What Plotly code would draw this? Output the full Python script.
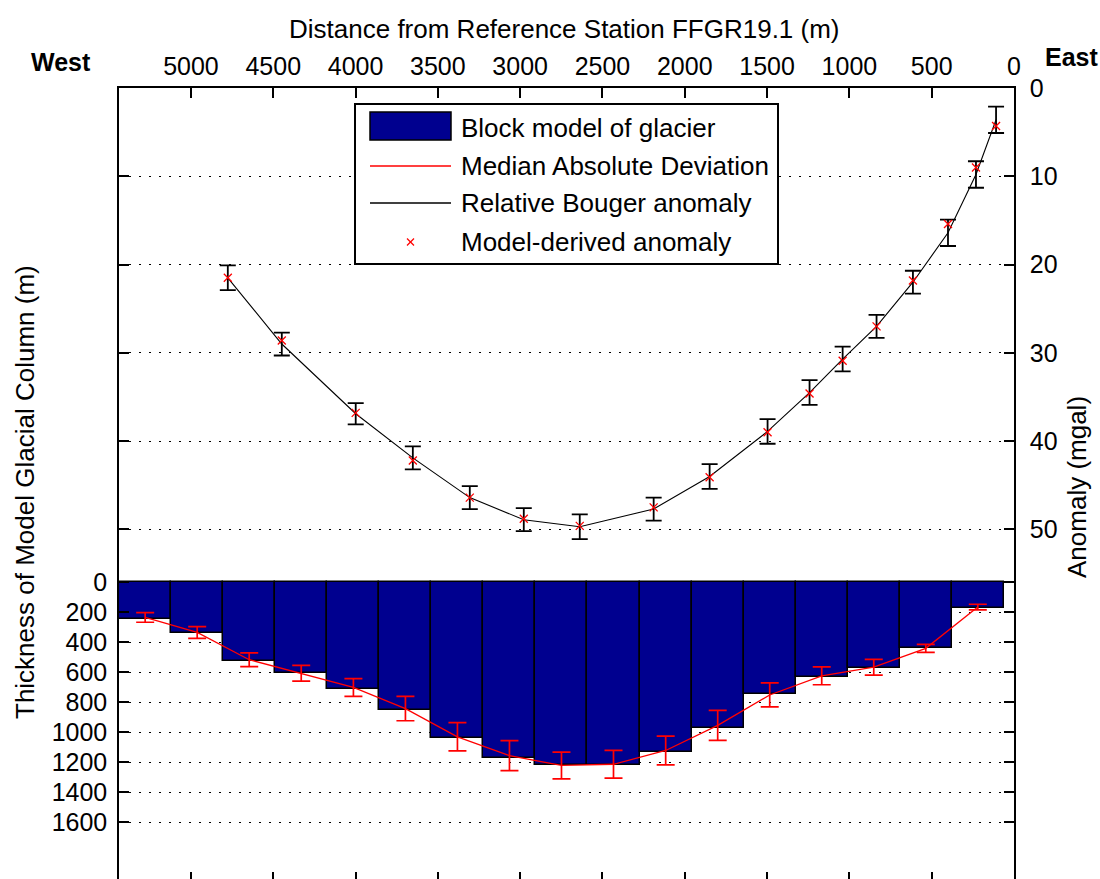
import plotly.graph_objects as go

# ---------------- data ----------------
block_x = [5278, 4962, 4646, 4330, 4013, 3697, 3381, 3065, 2749, 2433, 2116, 1800, 1484, 1168, 852, 536, 220]
block_thickness = [244, 338, 525, 606, 713, 847, 1034, 1168, 1215, 1215, 1128, 967, 746, 633, 572, 439, 171]
block_width = 316

mad_line = [233, 333, 515, 605, 700, 841, 1029, 1155, 1220, 1212, 1120, 953, 750, 622, 565, 439, 164]
mad_err = [32, 39, 46, 53, 59, 81, 94, 100, 89, 93, 96, 100, 80, 60, 52, 27, 19]

station_x = [4776, 4448, 3999, 3652, 3306, 2978, 2638, 2189, 1849, 1497, 1242, 1041, 835, 614, 401, 231, 109]
bouguer_obs = [21.5, 29.0, 36.9, 41.9, 46.4, 48.9, 49.7, 47.7, 44.0, 38.9, 34.5, 30.7, 27.0, 22.0, 16.4, 9.8, 3.6]
bouguer_err = [1.4, 1.3, 1.2, 1.3, 1.3, 1.3, 1.4, 1.3, 1.4, 1.4, 1.4, 1.4, 1.3, 1.3, 1.5, 1.5, 1.5]
model_anom = [21.5, 28.6, 36.8, 42.2, 46.4, 48.8, 49.6, 47.5, 44.1, 39.0, 34.6, 30.9, 27.0, 21.8, 15.4, 9.0, 4.3]

dist_ticks = [0, 500, 1000, 1500, 2000, 2500, 3000, 3500, 4000, 4500, 5000]
thick_ticks = [0, 200, 400, 600, 800, 1000, 1200, 1400, 1600]
anom_ticks = [0, 10, 20, 30, 40, 50]

legend_labels = ["Block model of glacier", "Median Absolute Deviation",
                 "Relative Bouger anomaly", "Model-derived anomaly"]

# ---------------- layout geometry ----------------
W, H = 1100, 879
L, R, T, B = 119, 1014, 88, 879
FONT = "Liberation Sans, Arial, sans-serif"
FS = 25
FS_T = 26
NAVY = "rgb(0,0,143)"


def px(x):
    return (x - L) / (R - L)


def py(y):
    return (B - y) / (B - T)


fig = go.Figure()

fig.add_trace(go.Bar(
    x=block_x, y=block_thickness, width=block_width,
    marker=dict(color=NAVY, line=dict(color="black", width=1.5)),
    xaxis="x", yaxis="y", showlegend=False, name=legend_labels[0]))

fig.add_trace(go.Scatter(
    x=block_x, y=mad_line, mode="lines",
    line=dict(color="red", width=1.3),
    error_y=dict(type="data", array=mad_err, color="red", thickness=1.7, width=9),
    xaxis="x", yaxis="y", showlegend=False, name=legend_labels[1]))

fig.add_trace(go.Scatter(
    x=station_x, y=bouguer_obs, mode="lines",
    line=dict(color="black", width=1.1),
    error_y=dict(type="data", array=bouguer_err, color="black", thickness=1.8, width=8),
    xaxis="x", yaxis="y2", showlegend=False, name=legend_labels[2]))

fig.add_trace(go.Scatter(
    x=station_x, y=model_anom, mode="markers",
    marker=dict(symbol="x-thin", size=8, line=dict(color="red", width=1.3), color="red"),
    xaxis="x2", yaxis="y2", showlegend=False, name=legend_labels[3]))

grid_dash = "2px,8px"

fig.update_layout(
    width=W, height=H,
    margin=dict(l=L, r=W - R, t=T, b=H - B, pad=0),
    paper_bgcolor="white", plot_bgcolor="white",
    font=dict(family=FONT, size=FS, color="black"),
    bargap=0,
    xaxis=dict(
        range=[5437, 0], side="top", tickmode="array", tickvals=dist_ticks,
        ticks="inside", ticklen=10, tickcolor="black", tickwidth=1.5,
        showline=True, linecolor="black", linewidth=1.5, mirror=False,
        showgrid=False, zeroline=False, ticklabelstandoff=1,
        tickfont=dict(family=FONT, size=FS, color="black")),
    xaxis2=dict(
        matches="x", overlaying="x", anchor="y", side="bottom",
        tickmode="array", tickvals=dist_ticks, ticks="inside", ticklen=7,
        tickcolor="black", tickwidth=1.5, showticklabels=False, showline=False,
        showgrid=False, zeroline=False),
    yaxis=dict(
        range=[1977, -3297], side="left", tickmode="array", tickvals=thick_ticks,
        ticks="inside", ticklen=10, tickcolor="black", tickwidth=1.5,
        showline=True, linecolor="black", linewidth=1.5, mirror="ticks",
        showgrid=True, gridcolor="black", gridwidth=1, griddash=grid_dash,
        zeroline=True, zerolinecolor="black", zerolinewidth=1.5,
        ticklabelstandoff=5,
        tickfont=dict(family=FONT, size=FS, color="black")),
    yaxis2=dict(
        range=[89.6, 0], side="right", overlaying="y", anchor="x",
        tickmode="array", tickvals=anom_ticks,
        ticks="inside", ticklen=10, tickcolor="black", tickwidth=1.5,
        showline=True, linecolor="black", linewidth=1.5, mirror="ticks",
        showgrid=True, gridcolor="black", gridwidth=1, griddash=grid_dash,
        zeroline=False, ticklabelstandoff=9,
        tickfont=dict(family=FONT, size=FS, color="black")),
)

# ---------------- titles / annotations ----------------
ann = []
ann.append(dict(text="Distance from Reference Station FFGR19.1 (m)", x=px(564), y=py(29),
                xref="paper", yref="paper", showarrow=False, xanchor="center", yanchor="middle",
                font=dict(family=FONT, size=FS_T)))
ann.append(dict(text="<b>West</b>", x=px(61), y=py(62), xref="paper", yref="paper",
                showarrow=False, xanchor="center", yanchor="middle", font=dict(family=FONT, size=FS)))
ann.append(dict(text="<b>East</b>", x=px(1071), y=py(57), xref="paper", yref="paper",
                showarrow=False, xanchor="center", yanchor="middle", font=dict(family=FONT, size=FS)))
ann.append(dict(text="Thickness of Model Glacial Column (m)", x=px(25), y=py(492), textangle=-90,
                xref="paper", yref="paper", showarrow=False, xanchor="center", yanchor="middle",
                font=dict(family=FONT, size=FS_T)))
ann.append(dict(text="Anomaly (mgal)", x=px(1077), y=py(487), textangle=-90,
                xref="paper", yref="paper", showarrow=False, xanchor="center", yanchor="middle",
                font=dict(family=FONT, size=FS_T)))

# ---------------- legend (drawn) ----------------
shapes = []
lx0, ly0, lx1, ly1 = 355, 104, 778, 264
shapes.append(dict(type="rect", xref="paper", yref="paper", x0=px(lx0), x1=px(lx1), y0=py(ly1), y1=py(ly0),
                   line=dict(color="black", width=2), fillcolor="white", layer="above"))
row_y = [128, 166, 203, 242]
sx0, sx1 = 370, 451
shapes.append(dict(type="rect", xref="paper", yref="paper", x0=px(sx0), x1=px(sx1), y0=py(140), y1=py(112),
                   line=dict(color="black", width=1.5), fillcolor=NAVY, layer="above"))
shapes.append(dict(type="line", xref="paper", yref="paper", x0=px(sx0), x1=px(sx1), y0=py(row_y[1]), y1=py(row_y[1]),
                   line=dict(color="red", width=1.3), layer="above"))
shapes.append(dict(type="line", xref="paper", yref="paper", x0=px(sx0), x1=px(sx1), y0=py(row_y[2]), y1=py(row_y[2]),
                   line=dict(color="black", width=1.3), layer="above"))
mx, my, ms = 410.5, row_y[3], 3.5
shapes.append(dict(type="line", xref="paper", yref="paper", x0=px(mx - ms), x1=px(mx + ms), y0=py(my - ms), y1=py(my + ms),
                   line=dict(color="red", width=1.3), layer="above"))
shapes.append(dict(type="line", xref="paper", yref="paper", x0=px(mx - ms), x1=px(mx + ms), y0=py(my + ms), y1=py(my - ms),
                   line=dict(color="red", width=1.3), layer="above"))
for lab, ry in zip(legend_labels, row_y):
    ann.append(dict(text=lab, x=px(459), y=py(ry), xref="paper", yref="paper", showarrow=False,
                    xanchor="left", yanchor="middle", font=dict(family=FONT, size=FS_T)))

fig.update_layout(annotations=ann, shapes=shapes)

fig.write_html("out.html")
